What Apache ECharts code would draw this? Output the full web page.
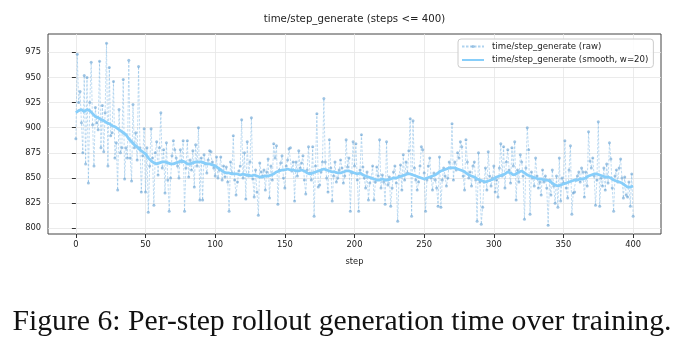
<!DOCTYPE html>
<html><head><meta charset="utf-8">
<script src="https://cdn.jsdelivr.net/npm/echarts@6/dist/echarts.min.js"></script>
<style>html,body{margin:0;padding:0;background:#fff}#c{width:686px;height:351px}</style>
</head><body><div id="c"></div>
<script>
const chartTitle = 'time/step_generate (steps <= 400)';
const caption = 'Figure 6: Per-step rollout generation time over training.';
const rawName = 'time/step_generate (raw)';
const smoothName = 'time/step_generate (smooth, w=20)';
const xTicks = [0, 50, 100, 150, 200, 250, 300, 350, 400];
const yTicks = [800, 825, 850, 875, 900, 925, 950, 975];
// raw per-step values, steps 0..400
const rawTime = [
889,973,925,936,905,875,952,864,950,845,
925,965,903,862,920,905,898,966,880,922,
876,915,984,862,960,892,895,946,870,885,
838,918,875,880,948,849,880,870,967,870,
847,923,880,895,868,961,880,836,872,899,
836,880,816,862,899,870,823,875,886,853,
880,915,860,878,835,885,848,817,850,872,
887,878,870,862,850,878,866,887,817,860,
887,851,868,858,877,841,883,862,900,828,
870,828,873,864,855,868,877,876,866,860,
852,871,850,858,871,848,862,851,861,846,
817,866,855,892,848,833,846,857,862,908,
850,875,829,886,852,866,910,849,831,858,
836,813,865,856,852,858,838,856,869,830,
862,848,884,870,882,824,858,865,872,850,
840,862,868,879,880,857,866,827,866,852,
877,860,865,872,848,834,858,881,855,848,
881,812,862,914,841,843,856,866,929,866,
850,836,888,860,827,852,866,846,850,858,
868,860,845,852,888,861,870,817,855,886,
862,884,848,817,858,893,861,850,840,856,
828,845,850,862,828,846,861,852,888,840,
853,846,824,886,843,851,822,840,856,862,
845,807,852,863,838,873,848,866,855,877,
909,812,907,860,848,838,846,862,881,878,
855,817,848,862,870,850,838,855,848,840,
822,871,821,848,860,852,842,850,866,860,
904,848,866,858,875,870,886,881,852,838,
888,866,850,856,842,862,866,848,807,875,
846,804,821,846,860,838,876,852,842,850,
862,836,848,831,860,884,852,881,840,866,
878,858,845,880,862,886,828,858,846,873,
866,852,809,860,900,878,814,856,850,842,
870,852,840,846,833,858,846,852,840,803,
848,833,858,842,825,852,821,870,827,850,
845,887,840,830,858,882,814,835,836,848,
852,856,846,860,856,831,856,842,896,867,
860,870,852,823,848,906,822,850,842,860,
838,864,845,885,869,840,817,852,858,846,
860,869,850,830,851,833,831,846,822,854,
812
];
// smoothed curve read every 2 steps, steps 0,2,...,400
const smoothStepEvery = 2;
const smoothTime = [
915,917,918,916,918,917,914,911,910,908,
907,905,904,902,901,899,897,895,893,889,
886,883,881,878,876,874,870,867,865,864,
865,866,866,865,864,864,865,866,867,866,
864,864,865,866,866,866,865,864,864,863,
862,860,858,856,855,855,854,854,854,853,
854,853,853,852,853,852,851,851,852,852,
853,854,856,857,858,858,859,858,858,857,
857,858,857,855,854,855,856,857,858,859,
858,857,856,856,855,855,856,857,857,856,
855,854,855,853,852,851,850,849,848,848,
849,848,848,849,850,850,851,852,853,854,
854,853,852,851,850,849,850,851,852,853,
855,857,858,859,860,860,860,859,858,857,
855,853,852,851,849,848,847,846,847,848,
849,851,852,853,854,856,855,853,854,856,
857,855,853,852,851,850,849,849,848,848,
847,845,843,842,843,844,845,846,847,848,
848,849,849,850,852,853,854,854,853,852,
851,851,850,848,847,846,845,843,841,841,
842
];

const rawData = rawTime.map((v, i) => [i, v]);
const smoothData = smoothTime.map((v, i) => [i * smoothStepEvery, v]);
const FONT = 'DejaVu Sans';
const chart = echarts.init(document.getElementById('c'), null, {renderer: 'canvas'});
chart.setOption({
  animation: false,
  backgroundColor: '#fff',
  grid: {left: 48, right: 25, top: 34, bottom: 117, show: true, borderColor: '#444', borderWidth: 1, backgroundColor: 'transparent'},
  graphic: [
    {type: 'text', x: 354.5, y: 19, style: {text: chartTitle, textAlign: 'center', textVerticalAlign: 'middle', font: '10.2px "DejaVu Sans"', fill: '#222'}},
    {type: 'text', x: 342, y: 322, style: {text: caption, textAlign: 'center', textVerticalAlign: 'middle', font: '29.7px "Liberation Serif"', fill: '#111'}}
  ],
  legend: {
    orient: 'vertical', left: 458, top: 39,
    itemWidth: 22, itemHeight: 4, itemGap: 4.5,
    padding: [3, 5, 3, 3],
    borderColor: '#ccc', borderWidth: 1, borderRadius: 3,
    backgroundColor: 'rgba(255,255,255,0.85)',
    textStyle: {fontFamily: FONT, fontSize: 8.6, color: '#222', padding: [0, 0, 0, 3]},
    data: [{name: rawName}, {name: smoothName, itemStyle: {opacity: 0}}]
  },
  xAxis: {
    type: 'value', min: -20, max: 420,
    name: 'step', nameLocation: 'middle', nameGap: 24,
    nameTextStyle: {fontFamily: FONT, fontSize: 8.3, color: '#222'},
    axisLine: {show: false},
    axisTick: {show: true, length: 4, lineStyle: {color: '#333'}, customValues: xTicks},
    axisLabel: {fontFamily: FONT, fontSize: 8.3, color: '#222', margin: 7, customValues: xTicks},
    splitLine: {show: true, lineStyle: {color: '#e6e6e6', width: 0.8}}
  },
  yAxis: {
    type: 'value', min: 794.3, max: 993.2,
    axisLine: {show: false},
    axisTick: {show: true, length: 4, lineStyle: {color: '#333'}, customValues: yTicks},
    axisLabel: {fontFamily: FONT, fontSize: 8.3, color: '#222', margin: 7, customValues: yTicks},
    splitLine: {show: true, lineStyle: {color: '#e6e6e6', width: 0.8}}
  },
  series: [
    {
      name: rawName, type: 'line', data: rawData,
      symbol: 'circle', symbolSize: 3, showSymbol: true,
      lineStyle: {type: [2.5, 1.5], width: 0.8, color: 'rgba(110,175,225,0.55)'},
      itemStyle: {color: 'rgba(100,160,210,0.6)', borderWidth: 0},
      z: 2
    },
    {
      name: smoothName, type: 'line', data: smoothData,
      symbol: 'none', showSymbol: false,
      lineStyle: {width: 2.8, color: '#87cefa'},
      itemStyle: {color: '#87cefa'},
      z: 3
    }
  ]
});
</script></body></html>
